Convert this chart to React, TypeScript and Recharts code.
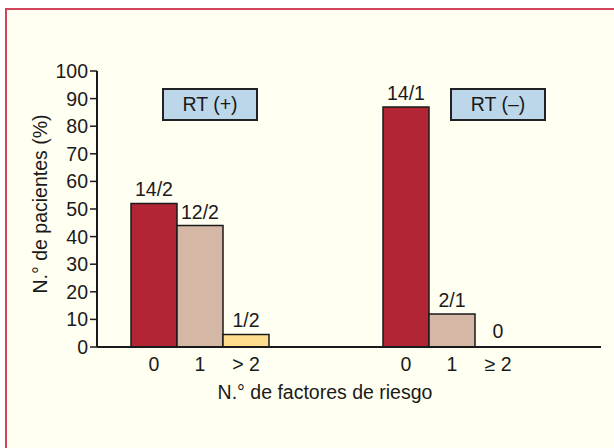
import React from "react";
import { BarChart, Bar, XAxis, YAxis, LabelList, Label, Cell } from "recharts";

// ---- data ----
const groups = ["RT (+)", "RT (\u2013)"];
const pctZero = [52, 87];
const pctOne = [44, 12];
const pctTwoPlus = [4.5, 0];
const spacer = [0, 0];
const labelsZero = ["14/2", "14/1"];
const labelsOne = ["12/2", "2/1"];
const labelsTwoPlus = ["1/2", "0"];
const ticksRTpos = ["0", "1", "> 2"];
const ticksRTneg = ["0", "1", "\u2265 2"];
const groupTicks = [ticksRTpos, ticksRTneg];
const yTicks = [0, 10, 20, 30, 40, 50, 60, 70, 80, 90, 100];

const data = groups.map((g, i) => ({
  group: g,
  zero: pctZero[i],
  one: pctOne[i],
  two: pctTwoPlus[i],
  spacer: spacer[i],
  lZero: labelsZero[i],
  lOne: labelsOne[i],
  lTwo: labelsTwoPlus[i],
}));

const FONT = "'Liberation Sans', Arial, Helvetica, sans-serif";
const FS = 19.5;
const BAR = 46;
const INK = "#1a1a1a";

const GroupTick = (props: any) => {
  const { x, y, index } = props;
  const labels = groupTicks[index] || [];
  return (
    <g>
      {labels.map((t: string, i: number) => (
        <text
          key={i}
          x={x + (i - 1.5) * BAR}
          y={y}
          dy="0.71em"
          textAnchor="middle"
          fill={INK}
          fontSize={FS}
          fontFamily={FONT}
        >
          {t}
        </text>
      ))}
    </g>
  );
};

const boxStyle: React.CSSProperties = {
  position: "absolute",
  top: 88,
  height: 29,
  width: 92,
  border: "2px solid #222",
  background: "#BDD7EA",
  fontFamily: FONT,
  fontSize: FS,
  color: INK,
  display: "flex",
  alignItems: "center",
  justifyContent: "center",
  boxSizing: "content-box",
};

export default function App() {
  return (
    <div
      style={{
        position: "absolute",
        left: 0,
        top: 0,
        width: 614,
        height: 448,
        background: "#ffffff",
        overflow: "hidden",
      }}
    >
      <div
        style={{
          position: "absolute",
          left: 5,
          top: 8,
          width: 620,
          height: 450,
          background: "#FFFFF2",
          borderLeft: "2px solid #D2445A",
          borderTop: "2px solid #D2445A",
        }}
      />
      <div style={{ position: "absolute", left: 0, top: 0 }}>
        <BarChart
          width={614}
          height={448}
          data={data}
          margin={{ top: 71, right: 13, bottom: 71, left: 0 }}
          barGap={0}
          barSize={BAR}
        >
          <XAxis
            dataKey="group"
            height={30}
            tickLine={false}
            tickSize={0}
            tickMargin={10}
            axisLine={{ stroke: INK, strokeWidth: 2 }}
            tick={<GroupTick />}
            interval={0}
          >
            <Label
              content={(p: any) => {
                const vb = p.viewBox || {};
                return (
                  <text
                    x={vb.x + vb.width / 2 - 24}
                    y={vb.y + vb.height + 8}
                    dy="0.71em"
                    textAnchor="middle"
                    fill={INK}
                    fontSize={FS}
                    fontFamily={FONT}
                  >
                    N.° de factores de riesgo
                  </text>
                );
              }}
            />
          </XAxis>
          <XAxis
            xAxisId="top"
            orientation="top"
            dataKey="group"
            height={0}
            tick={false}
            tickLine={false}
            axisLine={{ stroke: INK, strokeWidth: 2 }}
          />
          <YAxis
            width={97}
            domain={[0, 100]}
            ticks={yTicks}
            interval={0}
            tickSize={7}
            tickMargin={2}
            tickLine={{ stroke: INK, strokeWidth: 1.5 }}
            axisLine={{ stroke: INK, strokeWidth: 2 }}
            tick={{ fill: INK, fontSize: FS, fontFamily: FONT }}
          >
            <Label
              content={(p: any) => {
                const vb = p.viewBox || {};
                const cx = 40;
                const cy = vb.y + vb.height / 2 - 5;
                return (
                  <text
                    x={cx}
                    y={cy}
                    dy="0.355em"
                    textAnchor="middle"
                    transform={`rotate(-90 ${cx} ${cy})`}
                    fill={INK}
                    fontSize={FS}
                    fontFamily={FONT}
                  >
                    N.° de pacientes (%)
                  </text>
                );
              }}
            />
          </YAxis>
          <YAxis
            yAxisId="right"
            orientation="right"
            width={0}
            domain={[0, 100]}
            tick={false}
            tickLine={false}
            axisLine={{ stroke: INK, strokeWidth: 2 }}
          />
          <Bar dataKey="zero" fill="#B12535" stroke={INK} strokeWidth={1.5} isAnimationActive={false}>
            <LabelList dataKey="lZero" position="top" offset={7} fill={INK} fontSize={FS} fontFamily={FONT} />
          </Bar>
          <Bar dataKey="one" fill="#D4B7A4" stroke={INK} strokeWidth={1.5} isAnimationActive={false}>
            <LabelList dataKey="lOne" position="top" offset={7} fill={INK} fontSize={FS} fontFamily={FONT} />
          </Bar>
          <Bar dataKey="two" fill="#FFDD8E" stroke={INK} strokeWidth={1.5} minPointSize={1} isAnimationActive={false}>
            {data.map((d, i) => (
              <Cell
                key={i}
                fill={d.two === 0 ? "none" : "#FFDD8E"}
                stroke={d.two === 0 ? "none" : INK}
              />
            ))}
            <LabelList dataKey="lTwo" position="top" offset={8} fill={INK} fontSize={FS} fontFamily={FONT} />
          </Bar>
          <Bar dataKey="spacer" fill="none" stroke="none" isAnimationActive={false} legendType="none" />
        </BarChart>
      </div>
      <div style={{ ...boxStyle, left: 162 }}>{groups[0]}</div>
      <div style={{ ...boxStyle, left: 450 }}>{groups[1]}</div>
    </div>
  );
}
